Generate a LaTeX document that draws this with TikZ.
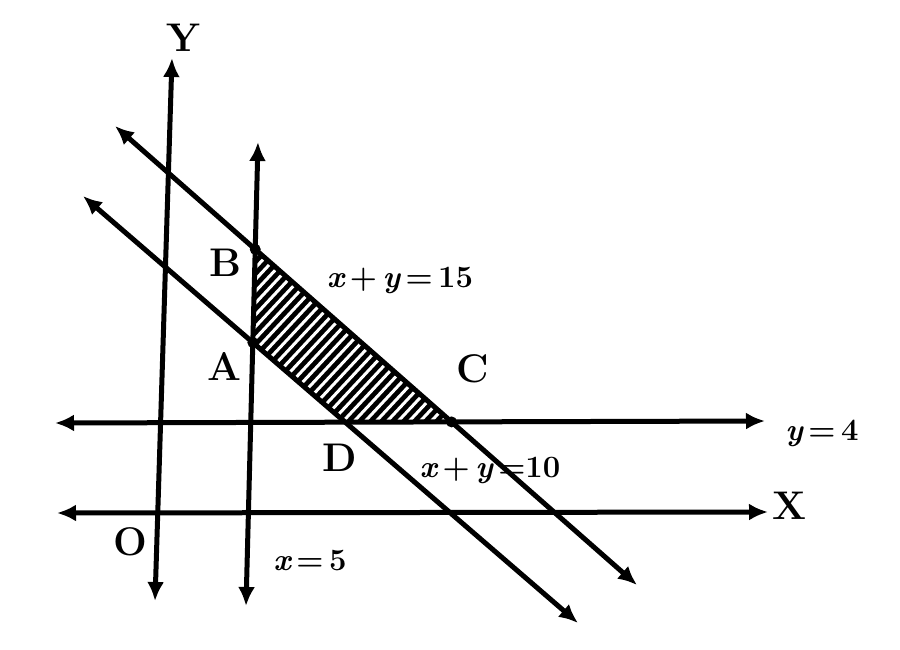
\documentclass[tikz,border=0pt]{standalone}
\usepackage{fontspec}
\usetikzlibrary{arrows.meta}
\newcommand{\vx}{{\itshape x}}
\newcommand{\vy}{{\itshape y}}
\newcommand{\gapsp}{\hspace{0.18em}}
\begin{document}
\begin{tikzpicture}[x=1pt,y=-1pt,
  ln/.style={line width=5pt,{Latex[length=19pt,width=17pt]}-{Latex[length=19pt,width=17pt]}},
  lbl/.style={font=\fontsize{40}{40}\selectfont\bfseries},
  eq/.style={font=\fontsize{31}{31}\selectfont\bfseries},
  dot/.style={circle,fill=black,inner sep=0pt,minimum size=11pt}]
\useasboundingbox (0,0) rectangle (900,649);
% line end points
\coordinate (ya) at (172,58);  \coordinate (yb) at (155,601);
\coordinate (fa) at (258,142); \coordinate (fb) at (246,606);
\coordinate (xa) at (57,513);  \coordinate (xb) at (768,512);
\coordinate (ga) at (55,423);  \coordinate (gb) at (765,421);
\coordinate (pa) at (115,126); \coordinate (pb) at (637,585);
\coordinate (qa) at (83,196);  \coordinate (qb) at (578,623);
% corner points
\coordinate (B) at (intersection of fa--fb and pa--pb);
\coordinate (A) at (intersection of fa--fb and qa--qb);
\coordinate (D) at (intersection of ga--gb and qa--qb);
\coordinate (C) at (intersection of ga--gb and pa--pb);
% hatched region
\begin{scope}
  \clip (B) -- (A) -- (D) -- (C) -- cycle;
  \fill[black] (B) -- (A) -- (D) -- (C) -- cycle;
  \foreach \t in {-100,-89,...,600}
    \draw[white,line width=3pt] (\t,460) -- (\t+280,160);
\end{scope}
% lines
\draw[ln] (ya) -- (yb);
\draw[ln] (fa) -- (fb);
\draw[ln] (xa) -- (xb);
\draw[ln] (ga) -- (gb);
\draw[ln] (pa) -- (pb);
\draw[ln] (qa) -- (qb);
% dots
\node[dot] (dB) at (B) {};
\node[dot] (dA) at (A) {};
\node[dot] (dC) at (C) {};
% labels
\node[lbl] (tY) at (183,38) {Y};
\node[lbl] (tX) at (789,506) {X};
\node[lbl] (tO) at (130,542) {O};
\node[lbl] (tB) at (225,263) {B};
\node[lbl] (tA) at (224,366) {A};
\node[lbl] (tC) at (473,369) {C};
\node[lbl] (tD) at (340,458) {D};
\node[eq] (e15) at (400,280) {\vx\gapsp+\gapsp\vy\gapsp=\gapsp15};
\node[eq] (e4) at (822,433) {\vy\gapsp=\gapsp4};
\node[eq] (e10) at (490,470) {\vx\gapsp+\gapsp\vy\gapsp=10};
\node[eq] (e5) at (310,561) {\vx\gapsp=\gapsp5};
\end{tikzpicture}
\end{document}
